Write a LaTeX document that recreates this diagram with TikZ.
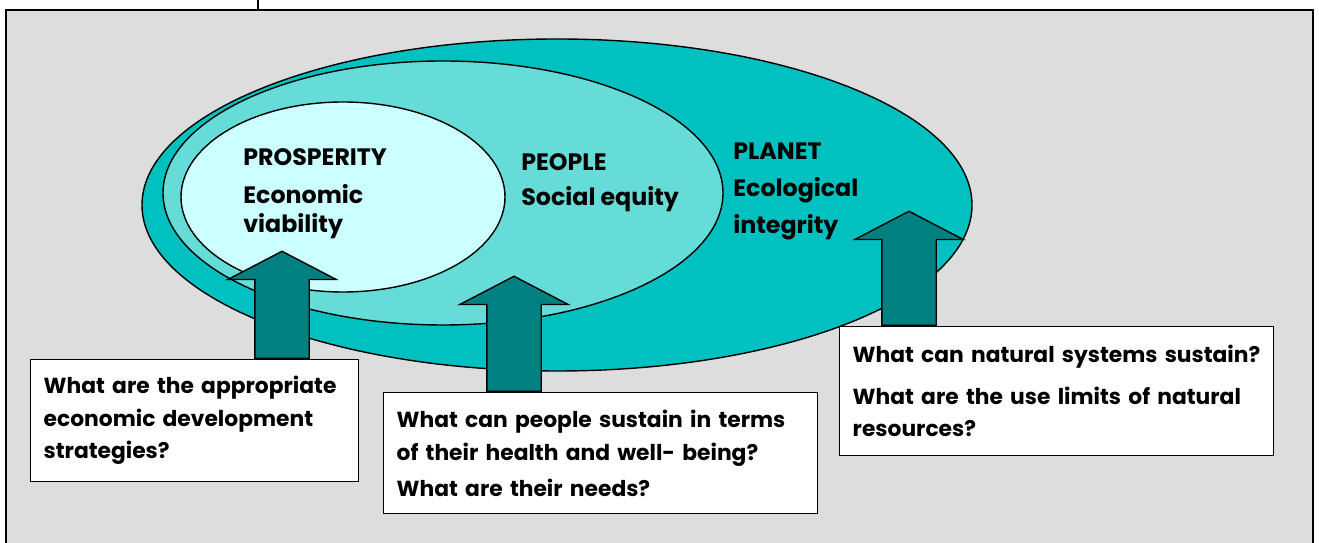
\documentclass[tikz,border=0pt]{standalone}
\usepackage{fontspec}
\setmainfont{Poppins}
\usetikzlibrary{shapes,positioning,arrows.meta}

\definecolor{bggray}{RGB}{221,221,221}
\definecolor{planetcol}{RGB}{0,192,192}
\definecolor{peoplecol}{RGB}{102,220,216}
\definecolor{prospcol}{RGB}{204,255,255}
\definecolor{arrowcol}{RGB}{0,128,128}

\begin{document}
\begin{tikzpicture}[
        ring/.style={ellipse, draw, line width=0.8pt, inner sep=0pt},
        ringtext/.style={align=left, anchor=north west, inner sep=0pt,
            font=\bfseries\fontsize{13.5}{17}\selectfont},
        qbox/.style={draw, line width=0.8pt, fill=white, anchor=north west,
            align=left, inner xsep=0.26cm,
            font=\bfseries\fontsize{12.4}{18.5}\selectfont},
        uparrow/.style={single arrow, draw, line width=0.8pt, fill=arrowcol,
            rotate=90, anchor=tail, inner xsep=0pt, inner ysep=0.53cm,
            single arrow head extend=0.54cm, single arrow tip angle=125}
    ]
    \useasboundingbox (0,0) rectangle (26.38,10.86);

    % frame
    \draw[line width=0.9pt, fill=bggray] (0.12,-0.2) rectangle (26.26,10.66);
    \draw[line width=0.9pt] (5.16,10.66) -- (5.16,10.86);

    % the three rings
    \node[ring, fill=planetcol, minimum width=16.6cm, minimum height=6.64cm] (planet) at (11.14,6.76) {};
    \node[ring, fill=peoplecol, minimum width=11.2cm, minimum height=5.28cm] (people) at (8.86,7.00) {};
    \node[ring, fill=prospcol, minimum width=6.48cm, minimum height=3.8cm] (prosperity) at (6.86,6.92) {};

    \node[ringtext] (prosperitytext) at (4.86,7.9) {PROSPERITY\\[4.5pt]Economic\\viability};
    \node[ringtext] (peopletext) at (10.42,7.8) {PEOPLE\\[3pt]Social equity};
    \node[ringtext] (planettext) at (14.66,8.0) {PLANET\\[4pt]Ecological\\[4pt]integrity};

    % questions
    \node[qbox, text width=6.04cm, minimum width=6.56cm, minimum height=2.44cm] (econ) at (0.60,3.68)
        {What are the appropriate\\economic development\\strategies?};
    \node[qbox, text width=8.16cm, minimum width=8.68cm, minimum height=2.42cm] (social) at (7.66,3.02)
        {What can people sustain in terms\\of their health and well- being?\\[2pt]What are their needs?};
    \node[qbox, text width=8.16cm, minimum width=8.68cm, minimum height=2.58cm] (nature) at (16.78,4.34)
        {\mbox{What can natural systems sustain?}\\[5pt]What are the use limits of natural\\resources?};

    % arrows from the questions into the rings
    \node[uparrow, minimum height=2.14cm] (arrow1) at (5.64,0 |- econ.north) {};
    \node[uparrow, minimum height=2.30cm] (arrow2) at (10.28,0 |- social.north) {};
    \node[uparrow, minimum height=2.28cm] (arrow3) at (18.18,0 |- nature.north) {};
\end{tikzpicture}
\end{document}
